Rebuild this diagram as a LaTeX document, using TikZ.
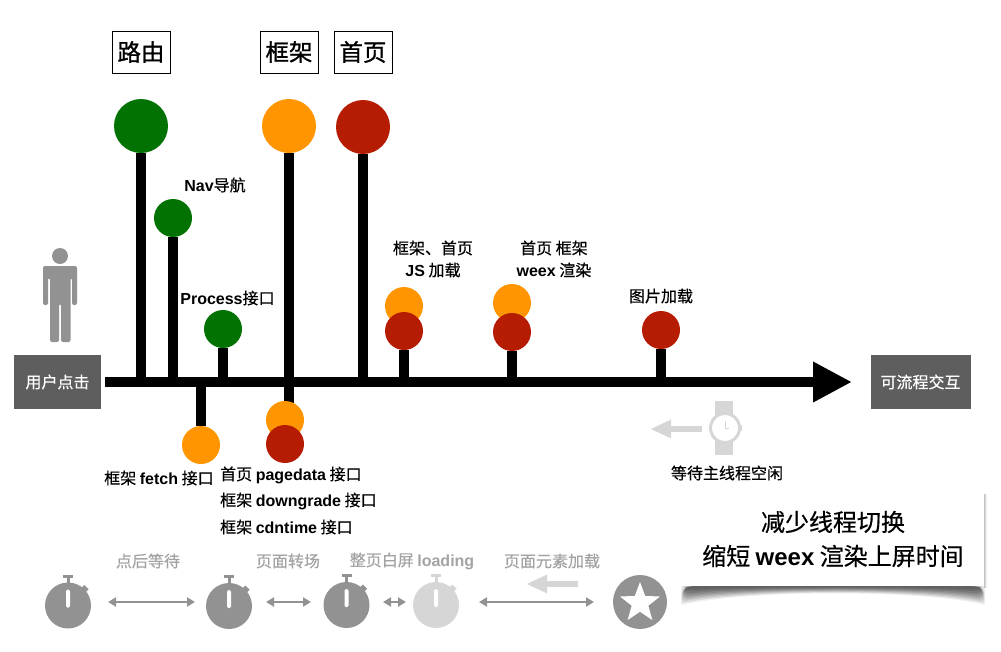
\documentclass[tikz,border=0pt]{standalone}
\usepackage{fontspec}
\usetikzlibrary{arrows.meta,shapes.geometric,backgrounds}
\setmainfont{Noto Sans CJK SC}[FakeBold=0.5]
\newfontfamily\heavyf{Noto Sans CJK SC}[FakeBold=1.0]
\newfontfamily\latf{Liberation Sans}[Scale=1.0]
\newcommand{\lt}[1]{{\latf\bfseries #1}}
\definecolor{cgreen}{HTML}{027302}
\definecolor{corange}{HTML}{FF9500}
\definecolor{cred}{HTML}{B51C02}
\definecolor{cbox}{HTML}{5E5E5E}
\definecolor{cgrey}{HTML}{929292}
\definecolor{clight}{HTML}{D6D6D6}
\definecolor{clabel}{HTML}{A3A3A3}
\tikzset{
  big/.style={circle,inner sep=0pt,minimum size=54pt,fill=#1},
  small/.style={circle,inner sep=0pt,minimum size=38pt,fill=#1},
  stem/.style={line width=10pt,black},
  axisline/.style={line width=10pt,black,-{Triangle[length=39pt,width=38pt]}},
  darkbox/.style={fill=cbox,text=white,inner sep=0pt,minimum height=54pt,font=\fontsize{16}{18}\selectfont},
  titlebox/.style={draw=black,line width=1pt,fill=white,inner sep=0pt,minimum width=58pt,minimum height=42pt,font=\heavyf\fontsize{23.5}{28}\selectfont},
  lab/.style={inner sep=0pt,align=center,font=\fontsize{16}{22}\selectfont},
  grey lab/.style={inner sep=0pt,text=clabel,font=\fontsize{16}{18}\selectfont},
  dbl/.style={line width=2pt,cgrey,{Triangle[length=8pt,width=9pt]}-{Triangle[length=8pt,width=9pt]}},
  block/.style={line width=6pt,clight,-{Triangle[length=21pt,width=17pt]}},
  watchc/.style={circle,inner sep=0pt,minimum size=46pt,fill=#1},
  pics/stopw/.style={code={
    \fill[#1] (-5,-31) rectangle (5,-28);
    \fill[#1] (-1.5,-29) rectangle (1.5,-22);
    \fill[#1,rotate=-45] (-3,-26) rectangle (3,-21);
    \fill[white,rounded corners=1.5pt] (-2,-16) rectangle (2,2);
  }}
}
\begin{document}
\begin{tikzpicture}[x=1pt,y=-1pt]
\useasboundingbox (0,0) rectangle (1001,651);
% boxes
\node[darkbox,minimum width=87pt] (start) at (57.5,382) {用户点击};
\node[darkbox,minimum width=100pt] (end) at (920.5,382) {可流程交互};
\node[titlebox] (t1) at (141,52) {路由};
\node[titlebox] (t2) at (289,52) {框架};
\node[titlebox] (t3) at (363,52) {首页};
% axis
\coordinate (a0) at (105,382);
\coordinate (a1) at (852,382);
% circles
\node[big=cgreen] (g1) at (141,126) {};
\node[small=cgreen] (g2) at (173,218) {};
\node[small=cgreen] (g3) at (223,329) {};
\node[big=corange] (o1) at (289,126) {};
\node[big=cred] (r1) at (363,127) {};
\node[small=corange] (o2) at (404,306) {};
\node[small=cred] (r2) at (404,331) {};
\node[small=corange] (o3) at (512,303) {};
\node[small=cred] (r3) at (512,332) {};
\node[small=cred] (r4) at (661,330) {};
\node[small=corange] (o4) at (201,445) {};
\node[small=corange] (o5) at (285,420) {};
\node[small=cred] (r5) at (285,444) {};
\coordinate (d5) at (289,420);
\begin{scope}[on background layer]
  \draw[stem] (g1) -- (g1 |- a0);
  \draw[stem] (g2) -- (g2 |- a0);
  \draw[stem] (g3) -- (g3 |- a0);
  \draw[stem] (o1) -- (o1 |- d5);
  \draw[stem] (r1) -- (r1 |- a0);
  \draw[stem] (r2) -- (r2 |- a0);
  \draw[stem] (r3) -- (r3 |- a0);
  \draw[stem] (r4) -- (r4 |- a0);
  \draw[stem] (o4) -- (o4 |- a0);
\end{scope}
\draw[axisline] (a0) -- (a1);
% labels
\node[lab] (l1) at (215,185) {\lt{Nav}导航};
\node[lab] (l2) at (227.5,298) {\lt{Process}接口};
\node[lab] (l3) at (433,259) {框架、首页\\\lt{JS} 加载};
\node[lab] (l4) at (554,259) {首页 框架\\\lt{weex} 渲染};
\node[lab] (l5) at (661,296) {图片加载};
\node[lab] (l6) at (159,478) {框架 \lt{fetch} 接口};
\node[lab,anchor=west] (l7) at (220,475) {首页 \lt{pagedata} 接口};
\node[lab,anchor=west] (l8) at (220,501) {框架 \lt{downgrade} 接口};
\node[lab,anchor=west] (l9) at (220,527) {框架 \lt{cdntime} 接口};
\node[lab] (l10) at (727,473) {等待主线程空闲};
% person
\node[circle,fill=cgrey,inner sep=0pt,minimum size=16pt] (head) at (60,256) {};
\fill[cgrey,rounded corners=2pt] (43,266) -- (77,266) -- (77,305) -- (72,305) -- (72,278) -- (70.5,278)
  -- (70.5,342) -- (61,342) -- (61,304) -- (59,304) -- (59,342) -- (50,342) -- (50,278) -- (48,278) -- (48,305) -- (43,305) -- cycle;
% watch
\fill[clight] (715,401) rectangle (733,455);
\node[circle,draw=clight,line width=3pt,fill=white,inner sep=0pt,minimum size=29pt] (wf) at (725,428) {};
\fill[clight] (740.5,425) rectangle (741.5,431);
\draw[clight,line width=1pt] (725,421) -- (725,428) -- (729,428);
\coordinate (wa) at (702,429);
\coordinate (wb) at (650,429);
\draw[block] (wa) -- (wb);
% conclusion
\foreach \d/\g in {19/6,17/14,15/22,13/30,11/38,9/46,7/52,5/58,3/62}{
  \fill[black!\g!white] (700-\d,586) -- (966+\d,586) .. controls (985,586+\d*0.5) and (985,586+\d) .. (966+\d,586+\d)
   .. controls (920,586+\d*0.18) and (750,586+\d*0.18) .. (700-\d,586+\d) .. controls (681,586+\d) and (681,586+\d*0.5) .. cycle;
}
\foreach \d/\g in {0/6,1/14,2/24}{\fill[black!\g!white] (986-\d,494) rectangle (987-\d,588);}
\node[fill=white,inner sep=0pt,minimum width=300pt,minimum height=94pt,align=center,font=\fontsize{24}{34}\selectfont] (msg) at (833,539) {减少线程切换\\缩短 \lt{weex} 渲染上屏时间};
% bottom row
\node[watchc=cgrey] (s1) at (68,605.5) {};
\pic at (s1) {stopw=cgrey};
\node[watchc=cgrey] (s2) at (229,606) {};
\pic at (s2) {stopw=cgrey};
\node[watchc=cgrey] (s3) at (346.5,605) {};
\pic at (s3) {stopw=cgrey};
\node[watchc=clight] (s4) at (436,605) {};
\pic at (s4) {stopw=clight};
\node[circle,fill=cgrey,inner sep=0pt,minimum size=54pt] (s5) at (640,602) {};
\node[star,star points=5,star point ratio=2.4,fill=white,inner sep=0pt,minimum size=42pt] (st) at (640,603) {};
\coordinate (b1) at (108,602); \coordinate (b2) at (195,602);
\coordinate (b3) at (266,602); \coordinate (b4) at (311,602);
\coordinate (b5) at (383,602); \coordinate (b6) at (406,602);
\coordinate (b7) at (479,602); \coordinate (b8) at (594,602);
\draw[dbl] (b1) -- (b2);
\draw[dbl] (b3) -- (b4);
\draw[dbl] (b5) -- (b6);
\draw[dbl] (b7) -- (b8);
\coordinate (ba) at (578,584); \coordinate (bb) at (526,584);
\draw[block] (ba) -- (bb);
\node[grey lab] (g1l) at (148,561) {点后等待};
\node[grey lab] (g2l) at (288,561) {页面转场};
\node[grey lab] (g3l) at (412,561) {整页白屏 \lt{loading}};
\node[grey lab] (g4l) at (552,561) {页面元素加载};
\end{tikzpicture}
\end{document}
